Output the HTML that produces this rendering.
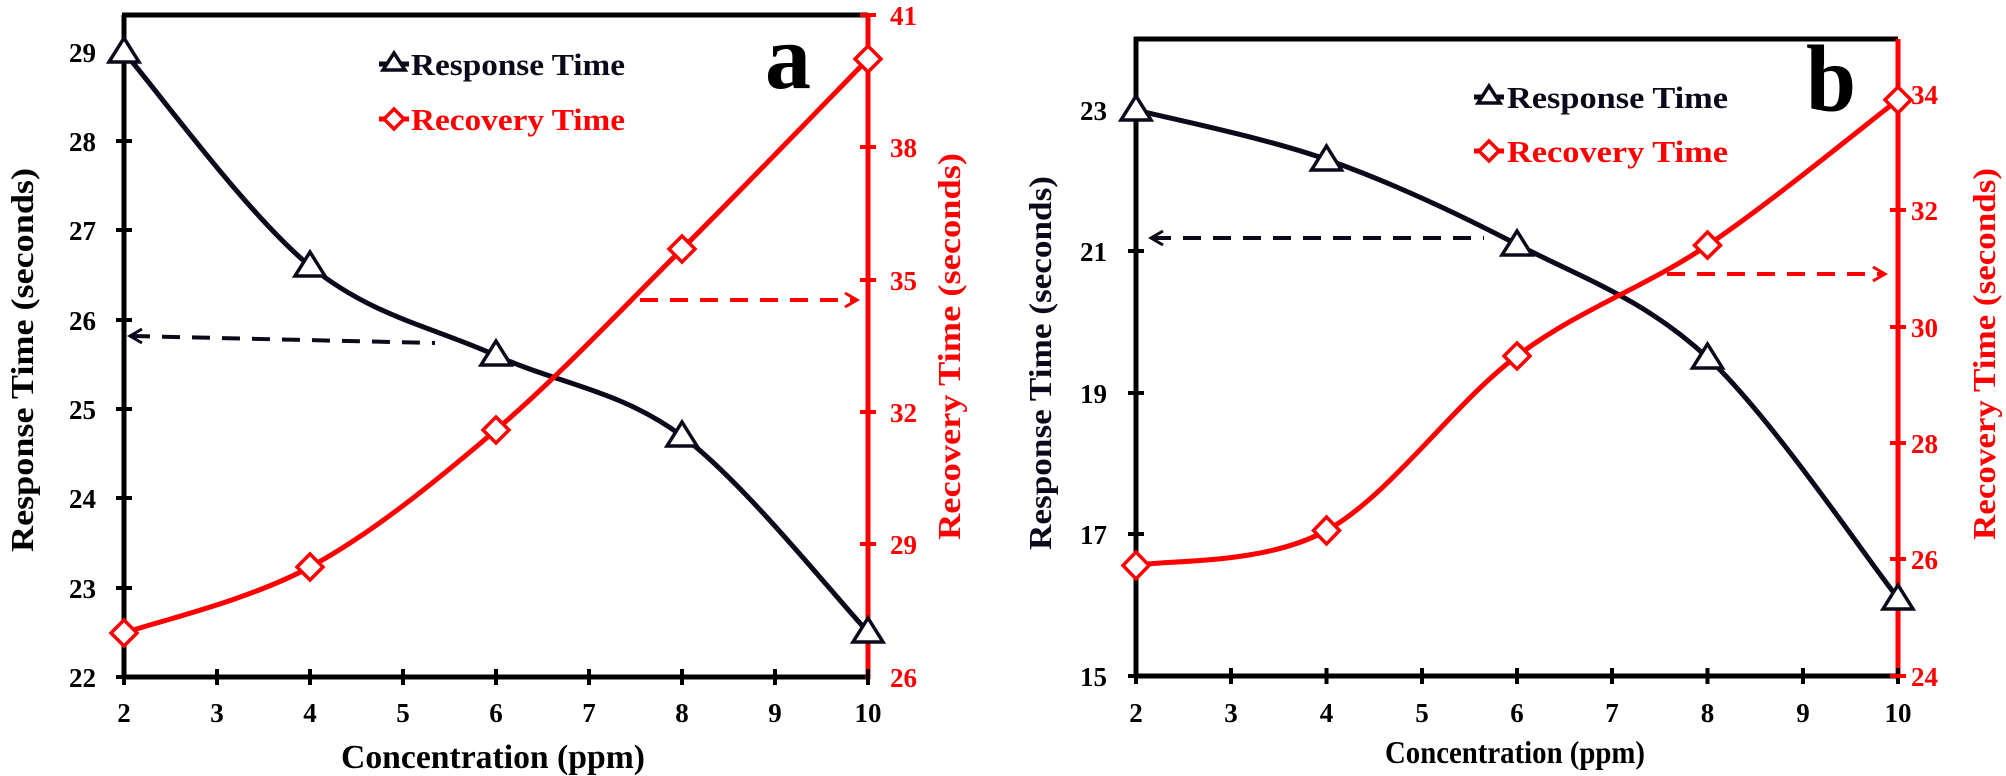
<!DOCTYPE html>
<html><head><meta charset="utf-8"><style>
html,body{margin:0;padding:0;background:#fff;}
svg{display:block;}
text{font-family:"Liberation Serif",serif;font-weight:bold;}
</style></head><body>
<svg width="2006" height="776" viewBox="0 0 2006 776" xmlns="http://www.w3.org/2000/svg">
<rect width="2006" height="776" fill="#fff"/>

<!-- ===== Panel a ===== -->
<g stroke-linecap="butt">
<line x1="124" y1="15" x2="124" y2="679" stroke="#000" stroke-width="5"/>
<line x1="122" y1="15" x2="868" y2="15" stroke="#000" stroke-width="5"/>
<line x1="122" y1="677" x2="868" y2="677" stroke="#000" stroke-width="5"/>
<line x1="868" y1="13" x2="868" y2="679" stroke="#f00" stroke-width="5"/>
<g stroke="#000" stroke-width="4">
<line x1="116" y1="52" x2="132" y2="52"/><line x1="116" y1="141" x2="132" y2="141"/><line x1="116" y1="230" x2="132" y2="230"/><line x1="116" y1="320" x2="132" y2="320"/><line x1="116" y1="409" x2="132" y2="409"/><line x1="116" y1="498" x2="132" y2="498"/><line x1="116" y1="588" x2="132" y2="588"/><line x1="116" y1="677" x2="132" y2="677"/>
<line x1="124" y1="669" x2="124" y2="685"/><line x1="217" y1="669" x2="217" y2="685"/><line x1="310" y1="669" x2="310" y2="685"/><line x1="403" y1="669" x2="403" y2="685"/><line x1="496" y1="669" x2="496" y2="685"/><line x1="589" y1="669" x2="589" y2="685"/><line x1="682" y1="669" x2="682" y2="685"/><line x1="775" y1="669" x2="775" y2="685"/><line x1="868" y1="669" x2="868" y2="685"/>
</g>
<g stroke="#f00" stroke-width="4">
<line x1="860" y1="15" x2="876" y2="15"/><line x1="860" y1="147" x2="876" y2="147"/><line x1="860" y1="280" x2="876" y2="280"/><line x1="860" y1="412" x2="876" y2="412"/><line x1="860" y1="544" x2="876" y2="544"/>
</g>
</g>
<g font-size="27" fill="#000" text-anchor="end">
<text x="96" y="62">29</text><text x="96" y="151">28</text><text x="96" y="240">27</text><text x="96" y="330">26</text><text x="96" y="419">25</text><text x="96" y="508">24</text><text x="96" y="598">23</text><text x="96" y="687">22</text>
</g>
<g font-size="27" fill="#f00">
<text x="890" y="25">41</text><text x="890" y="157">38</text><text x="890" y="290">35</text><text x="890" y="422">32</text><text x="890" y="554">29</text><text x="890" y="687">26</text>
</g>
<g font-size="27" fill="#000" text-anchor="middle">
<text x="124" y="722">2</text><text x="217" y="722">3</text><text x="310" y="722">4</text><text x="403" y="722">5</text><text x="496" y="722">6</text><text x="589" y="722">7</text><text x="682" y="722">8</text><text x="775" y="722">9</text><text x="868" y="722">10</text>
</g>
<text x="341" y="768" font-size="34" fill="#000" textLength="304" lengthAdjust="spacingAndGlyphs">Concentration (ppm)</text>
<text transform="translate(33,552) rotate(-90)" font-size="32" fill="#000" textLength="384" lengthAdjust="spacingAndGlyphs">Response Time (seconds)</text>
<text transform="translate(960,540) rotate(-90)" font-size="32" fill="#f00" textLength="387" lengthAdjust="spacingAndGlyphs">Recovery Time (seconds)</text>
<text x="765" y="88" font-size="92" fill="#000">a</text>

<!-- curves a -->
<path d="M124,52 C155,87.7 248,215.4 310,266 C372,316.6 434,327.2 496,355.5 C558,383.8 620,389.9 682,436 C744,482.1 837,599.3 868,632" fill="none" stroke="#0a0a1a" stroke-width="5"/>
<path d="M124,633 C155,622 248,600.8 310,567 C372,533.2 434,483 496,430 C558,377 620,310.8 682,249 C744,187.2 837,90.7 868,59" fill="none" stroke="#f00" stroke-width="5"/>
<g fill="#fff" stroke="#0a0a1a" stroke-width="3.5">
<polygon points="124,38 139,62 109,62"/><polygon points="310,252 325,276 295,276"/><polygon points="496,341 511,365 481,365"/><polygon points="682,422 697,446 667,446"/><polygon points="868,618 883,642 853,642"/>
</g>
<g fill="#fff" stroke="#f00" stroke-width="3.5">
<polygon points="124,620 137,633 124,646 111,633"/><polygon points="310,554 323,567 310,580 297,567"/><polygon points="496,417 509,430 496,443 483,430"/><polygon points="682,236 695,249 682,262 669,249"/><polygon points="868,46 881,59 868,72 855,59"/>
</g>
<!-- dashed arrows a -->
<line x1="132" y1="336" x2="435" y2="343" stroke="#0a0a1a" stroke-width="4" stroke-dasharray="18,12"/>
<polyline points="142,329 130,336 142,343" fill="none" stroke="#0a0a1a" stroke-width="3"/>
<line x1="640" y1="300" x2="856" y2="300" stroke="#f00" stroke-width="4" stroke-dasharray="18,12"/>
<polyline points="845,293 857,300 845,307" fill="none" stroke="#f00" stroke-width="3"/>
<!-- legend a -->
<line x1="379" y1="64" x2="409" y2="64" stroke="#0a0a1a" stroke-width="5"/>
<polygon points="394,53 405,70 383,70" fill="#fff" stroke="#0a0a1a" stroke-width="3.5"/>
<text x="411" y="75" font-size="31" fill="#0a0a1a" textLength="214" lengthAdjust="spacingAndGlyphs">Response Time</text>
<line x1="379" y1="119" x2="409" y2="119" stroke="#f00" stroke-width="5"/>
<polygon points="394,109 404,119 394,129 384,119" fill="#fff" stroke="#f00" stroke-width="3.5"/>
<text x="411" y="130" font-size="31" fill="#f00" textLength="214" lengthAdjust="spacingAndGlyphs">Recovery Time</text>

<!-- ===== Panel b ===== -->
<line x1="1136" y1="37" x2="1136" y2="678" stroke="#000" stroke-width="5"/>
<line x1="1134" y1="39" x2="1898" y2="39" stroke="#000" stroke-width="5"/>
<line x1="1134" y1="676" x2="1898" y2="676" stroke="#000" stroke-width="5"/>
<line x1="1898" y1="39" x2="1898" y2="678" stroke="#f00" stroke-width="5"/>
<g stroke="#000" stroke-width="4">
<line x1="1128" y1="110" x2="1144" y2="110"/><line x1="1128" y1="251" x2="1144" y2="251"/><line x1="1128" y1="393" x2="1144" y2="393"/><line x1="1128" y1="534" x2="1144" y2="534"/><line x1="1128" y1="676" x2="1144" y2="676"/>
<line x1="1136" y1="668" x2="1136" y2="684"/><line x1="1231" y1="668" x2="1231" y2="684"/><line x1="1326.5" y1="668" x2="1326.5" y2="684"/><line x1="1422" y1="668" x2="1422" y2="684"/><line x1="1517" y1="668" x2="1517" y2="684"/><line x1="1612" y1="668" x2="1612" y2="684"/><line x1="1707.5" y1="668" x2="1707.5" y2="684"/><line x1="1803" y1="668" x2="1803" y2="684"/><line x1="1898" y1="668" x2="1898" y2="684"/>
</g>
<g stroke="#f00" stroke-width="4">
<line x1="1890" y1="94" x2="1906" y2="94"/><line x1="1890" y1="210" x2="1906" y2="210"/><line x1="1890" y1="327" x2="1906" y2="327"/><line x1="1890" y1="443" x2="1906" y2="443"/><line x1="1890" y1="559" x2="1906" y2="559"/><line x1="1890" y1="676" x2="1906" y2="676"/>
</g>
<g font-size="27" fill="#000" text-anchor="end">
<text x="1107" y="120">23</text><text x="1107" y="261">21</text><text x="1107" y="403">19</text><text x="1107" y="544">17</text><text x="1107" y="686">15</text>
</g>
<g font-size="27" fill="#f00">
<text x="1911" y="104">34</text><text x="1911" y="220">32</text><text x="1911" y="337">30</text><text x="1911" y="453">28</text><text x="1911" y="569">26</text><text x="1911" y="686">24</text>
</g>
<g font-size="27" fill="#000" text-anchor="middle">
<text x="1136" y="722">2</text><text x="1231" y="722">3</text><text x="1326.5" y="722">4</text><text x="1422" y="722">5</text><text x="1517" y="722">6</text><text x="1612" y="722">7</text><text x="1707.5" y="722">8</text><text x="1803" y="722">9</text><text x="1898" y="722">10</text>
</g>
<text x="1385" y="763" font-size="32" fill="#000" textLength="260" lengthAdjust="spacingAndGlyphs">Concentration (ppm)</text>
<text transform="translate(1051,550) rotate(-90)" font-size="32" fill="#0a0a1a" textLength="374" lengthAdjust="spacingAndGlyphs">Response Time (seconds)</text>
<text transform="translate(1995,540) rotate(-90)" font-size="32" fill="#f00" textLength="372" lengthAdjust="spacingAndGlyphs">Recovery Time (seconds)</text>
<text x="1806" y="111" font-size="95" fill="#000" textLength="50" lengthAdjust="spacingAndGlyphs">b</text>

<path d="M1136,110 C1167.75,118.25 1263,137.1 1326.5,159.5 C1390,181.9 1453.5,211.4 1517,244.4 C1580.5,277.4 1644,298.6 1707.5,357.6 C1771,416.6 1866.25,558.1 1898,598.2" fill="none" stroke="#0a0a1a" stroke-width="5"/>
<path d="M1136,565.4 C1167.75,559.6 1263,565.4 1326.5,530.5 C1390,495.6 1453.5,403.5 1517,356 C1580.5,308.5 1644,288 1707.5,245.3 C1771,202.6 1866.25,124.05 1898,99.8" fill="none" stroke="#f00" stroke-width="5"/>
<g fill="#fff" stroke="#0a0a1a" stroke-width="3.5">
<polygon points="1136,96 1151,120 1121,120"/><polygon points="1326.5,146 1341.5,170 1311.5,170"/><polygon points="1517,231 1532,255 1502,255"/><polygon points="1707.5,344 1722.5,368 1692.5,368"/><polygon points="1898,585 1913,609 1883,609"/>
</g>
<g fill="#fff" stroke="#f00" stroke-width="3.5">
<polygon points="1136,552 1149,565.4 1136,579 1123,565.4"/><polygon points="1326.5,517 1339.5,530.5 1326.5,544 1313.5,530.5"/><polygon points="1517,343 1530,356 1517,369 1504,356"/><polygon points="1707.5,232 1720.5,245.3 1707.5,258 1694.5,245.3"/><polygon points="1898,87 1911,99.8 1898,113 1885,99.8"/>
</g>
<line x1="1153" y1="238" x2="1484" y2="238" stroke="#0a0a1a" stroke-width="4" stroke-dasharray="18,12"/>
<polyline points="1163,231 1151,238 1163,245" fill="none" stroke="#0a0a1a" stroke-width="3"/>
<line x1="1667" y1="274" x2="1883" y2="274" stroke="#f00" stroke-width="4" stroke-dasharray="18,12"/>
<polyline points="1873,267 1885,274 1873,281" fill="none" stroke="#f00" stroke-width="3"/>
<line x1="1474" y1="97" x2="1504" y2="97" stroke="#0a0a1a" stroke-width="5"/>
<polygon points="1489,86 1500,103 1478,103" fill="#fff" stroke="#0a0a1a" stroke-width="3.5"/>
<text x="1507" y="108" font-size="31" fill="#0a0a1a" textLength="221" lengthAdjust="spacingAndGlyphs">Response Time</text>
<line x1="1474" y1="151" x2="1504" y2="151" stroke="#f00" stroke-width="5"/>
<polygon points="1489,141 1499,151 1489,161 1479,151" fill="#fff" stroke="#f00" stroke-width="3.5"/>
<text x="1507" y="162" font-size="31" fill="#f00" textLength="221" lengthAdjust="spacingAndGlyphs">Recovery Time</text>
</svg>
</body></html>
